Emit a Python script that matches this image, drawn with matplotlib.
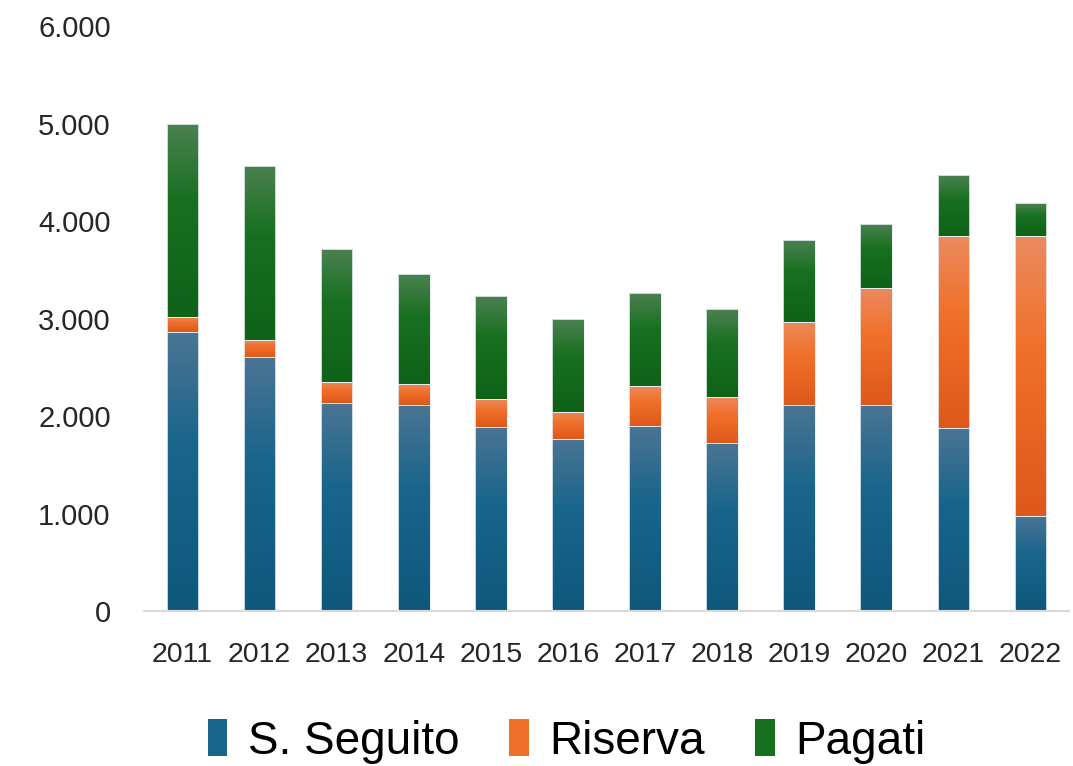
import numpy as np
import matplotlib
matplotlib.use("Agg")
import matplotlib.pyplot as plt
from matplotlib.colors import LinearSegmentedColormap
from matplotlib.patches import Patch
from matplotlib.ticker import FuncFormatter

## Data
anni = ["2011", "2012", "2013", "2014", "2015", "2016",
        "2017", "2018", "2019", "2020", "2021", "2022"]
seguito = [2860, 2605, 2135, 2115, 1895, 1772, 1899, 1725, 2115, 2115, 1885, 983]
riserva = [157, 180, 219, 218, 284, 277, 411, 475, 854, 1196, 1966, 2868]
pagati = [1983, 1784, 1361, 1129, 1050, 948, 954, 895, 841, 663, 619, 336]
serie = ["S. Seguito", "Riserva", "Pagati"]

## gradient colours: top (light) -> middle -> bottom (dark)
gradienti = {
    "S. Seguito": ["#4B7594", "#1A658C", "#0E587C"],
    "Riserva": ["#EC8A5E", "#F0702A", "#DF581A"],
    "Pagati": ["#4C8152", "#17701F", "#0F6218"],
}

fig = plt.figure(figsize=(10.73, 7.66), dpi=100)
ax = fig.add_axes([0.1342, 0.2017, 0.862, 0.7644])

x = np.arange(len(anni))
grad = np.linspace(1, 0, 256).reshape(-1, 1)  # 1 = top
bottom = np.zeros(len(anni))
for nome, valori in zip(serie, [seguito, riserva, pagati]):
    cols = gradienti[nome]
    cmap = LinearSegmentedColormap.from_list(nome, [(0, cols[2]), (0.6, cols[1]), (1, cols[0])])
    bars = ax.bar(x, valori, width=0.41, bottom=bottom, facecolor="none",
                  edgecolor="#E6EEF2", linewidth=0.6, zorder=3)
    for b in bars:
        x0, y0 = b.get_x(), b.get_y()
        im = ax.imshow(grad, extent=[x0, x0 + b.get_width(), y0, y0 + b.get_height()],
                       aspect="auto", cmap=cmap, vmin=0, vmax=1, zorder=2,
                       interpolation="bilinear")
        im.set_clip_path(b)
    bottom += np.array(valori)

ax.set_xlim(-0.5, len(anni) - 0.5)
ax.set_ylim(0, 6000)
ax.set_yticks(range(0, 6001, 1000))
ax.yaxis.set_major_formatter(FuncFormatter(lambda v, p: f"{int(v):,}".replace(",", ".")))
ax.set_xticks(x)
ax.set_xticklabels(anni)

for s in ["top", "right", "left"]:
    ax.spines[s].set_visible(False)
ax.spines["bottom"].set_color("#D9D9D9")
ax.spines["bottom"].set_linewidth(1.5)
ax.tick_params(axis="y", length=0, pad=24, labelsize=21, labelcolor="#262626")
ax.tick_params(axis="x", length=0, pad=22, labelsize=20.5, labelcolor="#262626")
for lab in ax.get_xticklabels() + ax.get_yticklabels():
    lab.set_family(["Liberation Sans", "DejaVu Sans"])

handles = [Patch(facecolor=gradienti[n][1], label=n) for n in serie]
fig.legend(handles=handles, loc="center", bbox_to_anchor=(0.528, 0.032), ncol=3,
           frameon=False, prop={"family": ["Liberation Sans Narrow", "Liberation Sans"], "size": 33},
           handlelength=0.42, handleheight=0.85, handletextpad=0.45, columnspacing=1.1)

fig.savefig("out.png", dpi=100)
